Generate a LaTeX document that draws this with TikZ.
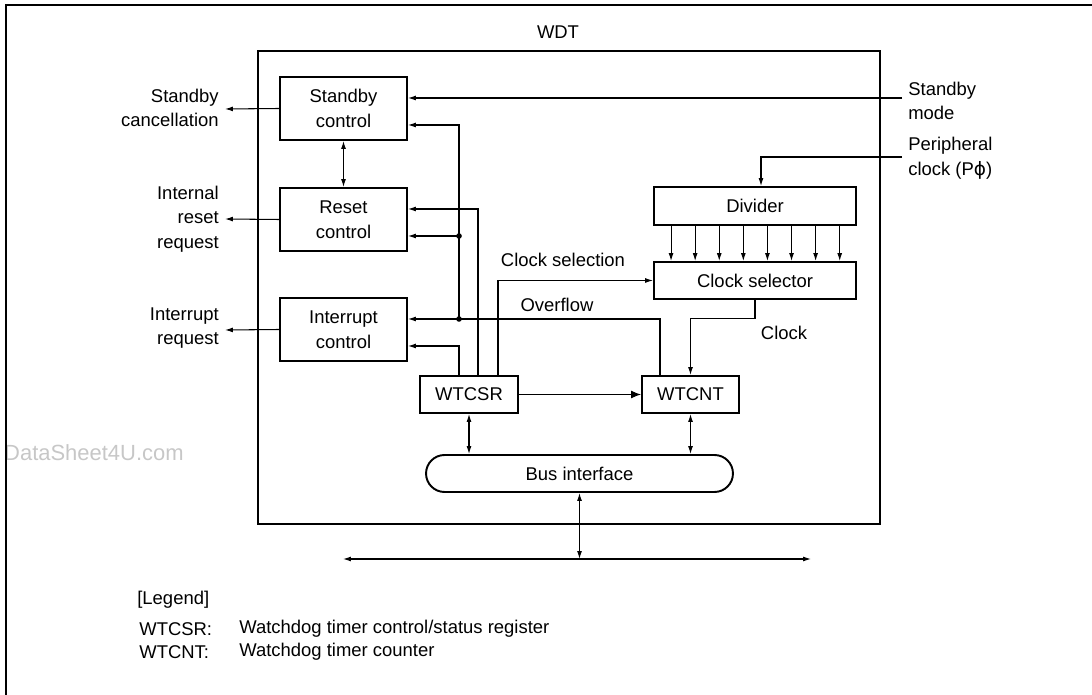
\documentclass[tikz,border=0pt]{standalone}
\usepackage{fontspec}
\setmainfont{Liberation Sans}
\newfontfamily\phifont{DejaVu Sans}
\usetikzlibrary{arrows.meta}

\tikzset{
  blk/.style={draw, line width=1.1pt, inner sep=0pt, align=center},
  conn/.style={line width=0.6pt},
  arr/.style={conn, -{Latex[length=4.5pt,width=2.8pt]}},
  darr/.style={conn, {Latex[length=4.5pt,width=2.8pt]}-{Latex[length=4.5pt,width=2.8pt]}},
  bigarr/.style={conn, -{Latex[length=5.7pt,width=4.5pt]}},
  lbl/.style={inner sep=0pt},
  jdot/.style={fill=black},
}

\begin{document}
\begin{tikzpicture}[x=0.02cm, y=-0.02cm, every node/.style={font=\fontsize{10.5}{14}\selectfont}]
  \useasboundingbox (0,0) rectangle (1092,695);
  % Page frame and watermark
  \node[lbl, anchor=east, text=black!22, font=\fontsize{12.5}{14}\selectfont] (wmark) at (184,453) {DataSheet4U.com};
  \draw[line width=1.2pt] (6.3,695) -- (6.3,5) -- (1092,5);
  % WDT module
  \node[draw, line width=1.4pt, minimum width=12.44cm, minimum height=9.46cm] (wdt) at (569,287.5) {};
  \node[lbl] (wdtname) at (558,32) {WDT};
  % Blocks
  \node[blk, minimum width=2.54cm, minimum height=1.26cm] (stby) at (343.5,108.5) {Standby\\control};
  \node[blk, minimum width=2.54cm, minimum height=1.26cm] (rst) at (343.5,219.5) {Reset\\control};
  \node[blk, minimum width=2.54cm, minimum height=1.26cm] (intr) at (343.5,329.5) {Interrupt\\control};
  \node[blk, minimum width=1.96cm, minimum height=0.74cm] (wtcsr) at (469,394.5) {WTCSR};
  \node[blk, minimum width=1.94cm, minimum height=0.74cm] (wtcnt) at (690.5,394.5) {WTCNT};
  \node[blk, minimum width=4.04cm, minimum height=0.76cm] (div) at (755,206) {Divider};
  \node[blk, minimum width=4.04cm, minimum height=0.74cm] (csel) at (755,280.5) {Clock selector};
  \node[blk, minimum width=6.14cm, minimum height=0.74cm, rounded corners=0.37cm] (bus) at (579.5,473.5) {Bus interface};
  % Outside signals
  \node[lbl, align=right, anchor=east] (sbcl) at (219,108) {Standby\\cancellation};
  \node[lbl, align=right, anchor=east] (rsrq) at (219,219) {Internal\\reset\\request};
  \node[lbl, align=right, anchor=east] (irrq) at (219,328) {Interrupt\\request};
  \node[lbl, align=left, anchor=west] (sbmd) at (908,101) {Standby\\mode};
  \node[lbl, align=left, anchor=west] (pclkl) at (908,158.5) {Peripheral\\clock (P{\phifont ϕ})};
  \coordinate (sbout) at (225,109);
  \coordinate (rsout) at (225,219);
  \coordinate (irout) at (225,330);
  \coordinate (sbin) at (902,98);
  \coordinate (pclk) at (902,157);
  \draw[arr] (stby.west) -- (sbout);
  \draw[arr] (rst.west) -- (rsout);
  \draw[arr] (intr.west) -- (irout);
  \draw[arr] (sbin) -- (sbin -| stby.east);
  \draw[arr] (pclk) -| ([xshift=0.12cm]div.north);
  \draw[darr] (stby.south) -- (rst.north);
  % Divider outputs
  \foreach \i in {0,...,7}
    \draw[arr] ([xshift={(0.36+0.482*\i)*1cm}]div.south west) -- ([xshift={(0.36+0.482*\i)*1cm}]csel.north west);
  % Clock path
  \draw[arr] (csel.south) -- ++(0,19) -| (wtcnt.north);
  \node[lbl] (clkl) at (784,333) {Clock};
  \draw[arr] ([xshift=0.58cm]wtcsr.north) |- (csel.west);
  \node[lbl] (csell) at (563,260) {Clock selection};
  \draw[bigarr] (wtcsr.east) -- (wtcnt.west);
  % Overflow and control lines
  \coordinate (j1) at (459,319);
  \coordinate (j2) at (459,236);
  \draw[arr] ([xshift=-0.61cm]wtcnt.north) |- ([yshift=0.21cm]intr.east);
  \node[lbl] (ovfl) at (557,305) {Overflow};
  \draw[arr] (j1) |- ([yshift=-0.33cm]stby.east);
  \draw[arr] (j2) -- (j2 -| rst.east);
  \fill[jdot] (j1) circle[radius=1.6pt];
  \fill[jdot] (j2) circle[radius=1.6pt];
  \draw[arr] ([xshift=-0.2cm]wtcsr.north) |- ([yshift=-0.33cm]intr.east);
  \draw[arr] ([xshift=0.18cm]wtcsr.north) |- ([yshift=0.21cm]rst.east);
  % Bus
  \coordinate (busL) at (343,559);
  \coordinate (busR) at (811,559);
  \draw[darr] (wtcsr.south) -- (wtcsr.south |- bus.north);
  \draw[darr] (wtcnt.south) -- (wtcnt.south |- bus.north);
  \draw[darr] (busL) -- (busR);
  \draw[darr] (bus.south) -- (bus.south |- busL);
  % Legend
  \node[lbl, anchor=west] (lgd) at (137,600) {[Legend]};
  \node[lbl, anchor=west] (lg1) at (139,629) {WTCSR:};
  \node[lbl, anchor=west] (lg1t) at (239,629) {Watchdog timer control/status register};
  \node[lbl, anchor=west] (lg2) at (139,652) {WTCNT:};
  \node[lbl, anchor=west] (lg2t) at (239,652) {Watchdog timer counter};
\end{tikzpicture}
\end{document}
